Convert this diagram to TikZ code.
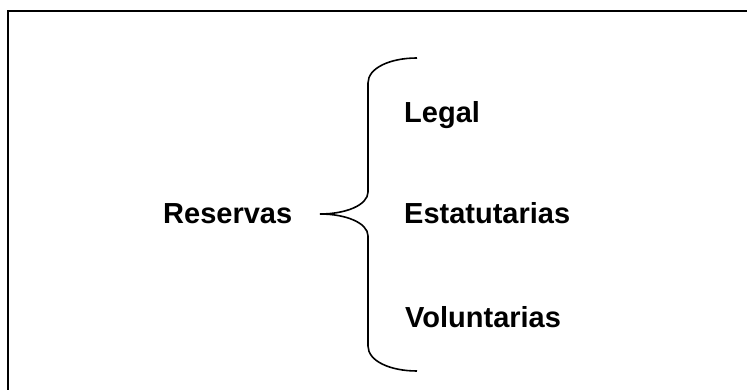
\documentclass[tikz,border=0pt]{standalone}
\usepackage{fontspec}
\setmainfont{Liberation Sans}
\usepackage{tikz}

\begin{document}
\begin{tikzpicture}[x=1pt, y=1pt,
  label/.style={inner sep=0pt, anchor=base west, font=\fontsize{29}{34}\selectfont\bfseries}]
\useasboundingbox (0,0) rectangle (747,390);
\draw[line width=2.3pt] (8,-5) -- (8,379) -- (752,379);
\node[label] (reservas) at (163,166) {Reservas};
\node[label] (legal) at (404,267) {Legal};
\node[label] (estatutarias) at (404,166) {Estatutarias};
\node[label] (voluntarias) at (405,62) {Voluntarias};
\coordinate (tip) at (320,176);
\draw[line width=1.6pt] (417,332) .. controls (390,332) and (368,322) .. (368,307)
  -- (368,198) .. controls (368,185) and (346,176) .. (tip)
  .. controls (346,176) and (368,167) .. (368,154)
  -- (368,44) .. controls (368,29) and (390,19) .. (417,19);
\end{tikzpicture}
\end{document}
